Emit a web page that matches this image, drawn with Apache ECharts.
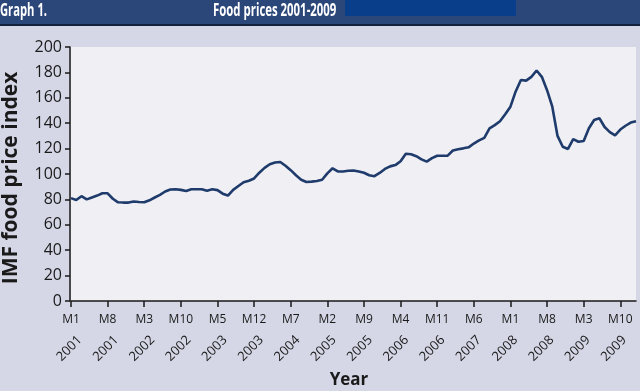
<!DOCTYPE html>
<html>
<head>
<meta charset="utf-8">
<script src="https://cdn.jsdelivr.net/npm/echarts@6/dist/echarts.min.js"></script>
<style>
html,body{margin:0;padding:0;background:#d5d7e6;}
#chart{width:640px;height:391px;}
</style>
</head>
<body>
<div id="chart"></div>
<script>
// Monthly IMF food price index, Jan 2001 .. Jan 2010 (109 months)
var foodIndex = [
  81, 79.5, 82.5, 80, 81.5, 83, 84.8, 84.8, 80.5, 77.7, 77.5, 77.5,
  78.4, 78, 77.7, 79.3, 81.5, 83.5, 86.2, 87.8, 88, 87.5, 86.6, 88,
  88, 88, 86.9, 88, 87.3, 84.5, 83, 87.5, 90.5, 93.5, 94.7, 96.5,
  101, 104.8, 107.7, 109, 109.5, 106.5, 103, 99, 95.5, 93.7, 94, 94.5,
  95.5, 100.5, 104.5, 102, 102, 102.5, 102.8, 102, 101, 99, 98.3, 100.8,
  104, 106, 107, 110, 116, 115.5, 114, 111.5, 109.7, 112.5, 114.4, 114.4,
  114.5, 118.5, 119.5, 120.2, 121, 124, 126.5, 128.5, 136, 138.5, 141.5, 147,
  153, 165, 174, 173.5, 176.5, 181.5, 176.5, 166, 153, 130, 121.5, 119.7,
  127.5, 125.4, 126, 136, 142.5, 143.9, 137, 133, 130.5, 135, 138, 140.5,
  141.5
];
// tick labels every 7 months
var monthLabels = ['M1','M8','M3','M10','M5','M12','M7','M2','M9','M4','M11','M6','M1','M8','M3','M10'];
var yearLabels  = ['2001','2001','2002','2002','2003','2003','2004','2005','2005','2006','2006','2007','2008','2008','2009','2009'];
var yTicks = [0, 20, 40, 60, 80, 100, 120, 140, 160, 180, 200];

var categories = foodIndex.map(function(_, i){ return String(i); });

var chart = echarts.init(document.getElementById('chart'), null, {renderer:'canvas'});
var fontF = '"Open Sans", "Noto Sans", sans-serif';
var axisCol = '#1a1a1a';

chart.setOption({
  backgroundColor: '#d5d7e6',
  animation: false,
  grid: [
    {left: 71, top: 47, width: 565, bottom: 90, backgroundColor: '#efeff4', show: true, borderWidth: 0},
    {left: 80, top: 47, width: 565, bottom: 90, show: false}
  ],
  xAxis: [
    {
      type: 'category', gridIndex: 0, data: categories, boundaryGap: false,
      axisLine: {lineStyle: {color: axisCol, width: 1.5}},
      axisTick: {interval: 6, length: 6, lineStyle: {color: axisCol, width: 1.5}},
      axisLabel: {
        interval: 6, margin: 13, color: axisCol, fontFamily: fontF, fontSize: 12, fontWeight: 500,
        formatter: function(v, i){ return monthLabels[Math.round(i/7)] || ''; }
      },
      splitLine: {show: false}
    },
    {
      type: 'category', gridIndex: 1, data: categories, boundaryGap: false,
      axisLine: {show: false}, axisTick: {show: false},
      axisLabel: {
        interval: 6, margin: 37, rotate: 45, color: axisCol, fontFamily: fontF, fontSize: 13, fontWeight: 500,
        formatter: function(v, i){ return yearLabels[Math.round(i/7)] || ''; }
      },
      splitLine: {show: false}
    }
  ],
  yAxis: [
    {
      type: 'value', gridIndex: 0, min: yTicks[0], max: yTicks[yTicks.length-1], interval: 20,
      offset: 1,
      axisLine: {show: true, lineStyle: {color: axisCol, width: 1.5}},
      axisTick: {show: true, length: 5, lineStyle: {color: axisCol, width: 1.5}},
      axisLabel: {margin: 8, color: axisCol, fontFamily: fontF, fontSize: 16, fontWeight: 500},
      splitLine: {show: false}
    },
    {type: 'value', gridIndex: 1, min: 0, max: 200, show: false}
  ],
  series: [{
    type: 'line', xAxisIndex: 0, yAxisIndex: 0, data: foodIndex,
    showSymbol: false, symbol: 'none',
    lineStyle: {color: '#1f3b6b', width: 2.6}
  }],
  graphic: [
    {type: 'rect', left: 0, top: 0, shape: {width: 640, height: 25}, style: {fill: '#2b4679'}, z: 1},
    {type: 'rect', left: 0, top: 24, shape: {width: 640, height: 2}, style: {fill: '#15213a'}, z: 2},
    {type: 'rect', left: 345, top: 0, shape: {width: 171, height: 16}, style: {fill: '#083e8a'}, z: 2},
    {type: 'text', x: 0, y: 11, scaleX: 0.66,
     style: {text: 'Graph 1.', fill: '#ffffff', font: 'bold 17px ' + fontF, textVerticalAlign: 'middle'}, z: 3},
    {type: 'text', x: 213, y: 11, scaleX: 0.67,
     style: {text: 'Food prices 2001-2009', fill: '#ffffff', font: 'bold 17px ' + fontF, textVerticalAlign: 'middle'}, z: 3},
    {type: 'text', x: 11, y: 178, rotation: Math.PI/2,
     style: {text: 'IMF food price index', fill: axisCol, font: 'bold 21px ' + fontF, textAlign: 'center', textVerticalAlign: 'middle'}, z: 3},
    {type: 'text', x: 349, y: 380,
     style: {text: 'Year', fill: axisCol, font: 'bold 17px ' + fontF, textAlign: 'center', textVerticalAlign: 'middle'}, z: 3}
  ]
});
</script>
</body>
</html>
